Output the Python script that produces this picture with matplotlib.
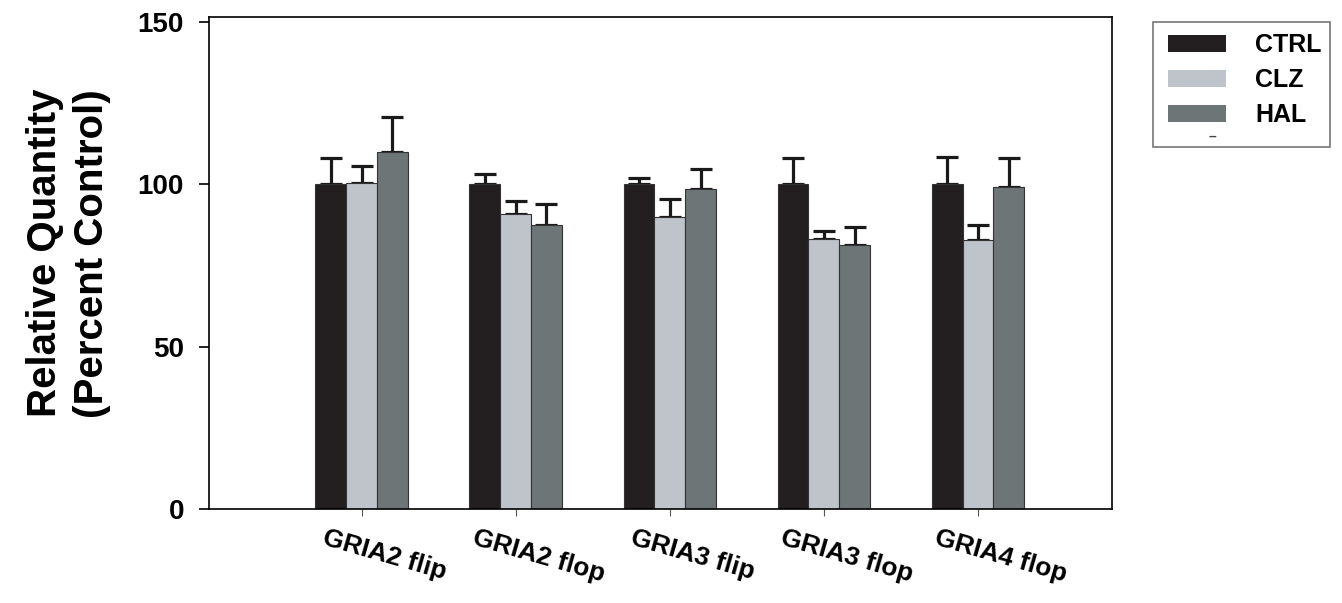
import matplotlib
matplotlib.use('Agg')
import matplotlib.pyplot as plt
import matplotlib.transforms as mtransforms
from matplotlib.patches import Patch, Rectangle
import numpy as np

plt.rcParams['font.family'] = ['Liberation Sans', 'DejaVu Sans']
plt.rcParams['font.weight'] = 'bold'

genes = ['GRIA2 flip', 'GRIA2 flop', 'GRIA3 flip', 'GRIA3 flop', 'GRIA4 flop']
groups = ['CTRL', 'CLZ', 'HAL']
ctrl = [100, 100, 100, 100, 100]
ctrl_err = [8, 3, 2, 8, 8.4]
clz = [100.4, 90.7, 89.8, 83.1, 82.8]
clz_err = [5.2, 4.1, 5.6, 2.4, 4.6]
hal = [109.9, 87.4, 98.6, 81.2, 99.0]
hal_err = [10.6, 6.4, 6.0, 5.6, 8.9]
colors = ['#231f20', '#bfc3ca', '#6d7577']

fig = plt.figure(figsize=(13.42, 6.03), dpi=100)
ax = fig.add_axes([209/1342, 1-509/603, (1112-209)/1342, (509-17)/603])

x = np.arange(len(genes))
w = 0.2
for i, (vals, errs) in enumerate([(ctrl, ctrl_err), (clz, clz_err), (hal, hal_err)]):
	pos = x + (i-1)*w
	ax.bar(pos, vals, w, color=colors[i], edgecolor='#333333', linewidth=0.8, zorder=2)
	ax.errorbar(pos, vals, yerr=[np.zeros(len(errs)), errs], fmt='none', ecolor='#1a1a1a',
		elinewidth=2.3, capsize=8, capthick=2.3, zorder=1)

ax.set_xlim(-0.99, 4.87)
ax.set_ylim(0, 151.4)
ax.set_yticks([0, 50, 100, 150])
ax.tick_params(axis='y', direction='out', length=7, width=1.2, labelsize=20, pad=11)
ax.tick_params(axis='x', direction='out', length=5, width=0.8, color='#555555', labelsize=19, pad=7)
ax.set_xticks(x)
ax.set_xticklabels(genes, rotation=-16, ha='center', fontweight='bold')
off = mtransforms.ScaledTranslation(23/100, 0, fig.dpi_scale_trans)
for lab in ax.get_xticklabels():
	lab.set_transform(lab.get_transform() + off)
for lab in ax.get_yticklabels():
	lab.set_fontweight('bold')
for s in ax.spines.values():
	s.set_linewidth(1.2)
ax.set_ylabel('Relative Quantity\n(Percent Control)', fontsize=29, fontweight='bold', linespacing=1.3)
ax.yaxis.set_label_coords(-0.108, 0.52)

# legend: frame drawn by hand, entries placed by the legend
fig.patches.append(Rectangle((1153/1342, 1-147/603), 177/1342, 125/603, transform=fig.transFigure,
	fill=False, edgecolor='#777777', linewidth=1.2))
handles = [Patch(facecolor=c, edgecolor='none') for c in colors]
leg = fig.legend(handles, groups, loc='upper left', bbox_to_anchor=(1168/1342, 1-33/603),
	frameon=False, fontsize=18, handlelength=2.3, handleheight=0.65, handletextpad=1.2,
	labelspacing=0.45, borderpad=0, borderaxespad=0)
for t in leg.get_texts():
	t.set_fontweight('bold')
fig.text(1212/1342, 1-137/603, '–', fontsize=10, ha='center', va='center', color='#444444')

fig.savefig('out.png', dpi=100)
